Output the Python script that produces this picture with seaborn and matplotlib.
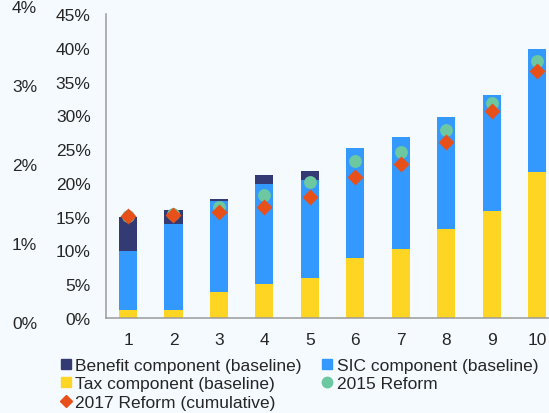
import numpy as np
import pandas as pd
import matplotlib
matplotlib.use('Agg')
import matplotlib.pyplot as plt
from matplotlib.lines import Line2D
import seaborn as sns

# values (% of ...)
deciles = ['1', '2', '3', '4', '5', '6', '7', '8', '9', '10']
tax = [1.2, 1.2, 3.8, 5.0, 5.9, 8.9, 10.2, 13.2, 15.9, 21.6]
sic = [8.7, 12.7, 13.5, 14.9, 14.5, 16.3, 16.6, 16.6, 17.1, 18.2]
benefit = [5.1, 2.1, 0.3, 1.2, 1.3, 0.0, 0.0, 0.0, 0.0, 0.0]
reform_2015 = [15.1, 15.4, 16.5, 18.2, 20.2, 23.2, 24.6, 27.9, 31.8, 38.0]
reform_2017 = [15.1, 15.3, 15.7, 16.4, 17.9, 20.8, 22.8, 26.0, 30.7, 36.5]
outer_ticks = [0, 1, 2, 3, 4]

c_benefit = '#343B74'
c_sic = '#3399FF'
c_tax = '#FFD524'
c_2015 = '#6CC8A0'
c_2017 = '#E8501A'
bg = '#F5FAFE'
fs = 12.5

df = pd.DataFrame({'decile': deciles, 'tax': tax, 'sic': sic, 'benefit': benefit,
                   'r2015': reform_2015, 'r2017': reform_2017})
df['tax_sic'] = df['tax'] + df['sic']
df['total'] = df['tax_sic'] + df['benefit']

sns.set_style('white')
plt.rcParams['font.family'] = ['Liberation Sans', 'DejaVu Sans']
plt.rcParams['font.size'] = fs

fig = plt.figure(figsize=(5.49, 4.14), dpi=100, facecolor=bg)

# outer scale on the far left
ax0 = fig.add_axes([0.075, 0.2198, 0.01, 0.763])
ax0.set_facecolor('none')
ax0.set_ylim(0, 4)
ax0.set_yticks(outer_ticks)
ax0.set_yticklabels([f'{t}%' for t in outer_ticks])
ax0.set_xticks([])
ax0.tick_params(axis='y', length=0, pad=3, labelsize=fs)
for s in ax0.spines.values():
    s.set_visible(False)

ax = fig.add_axes([0.193, 0.2295, 0.807, 0.7343])
ax.set_facecolor(bg)

# stacked bars drawn as overlapping cumulative totals
sns.barplot(data=df, x='decile', y='total', color=c_benefit, width=0.4,
            saturation=1, linewidth=0, ax=ax)
sns.barplot(data=df, x='decile', y='tax_sic', color=c_sic, width=0.4,
            saturation=1, linewidth=0, ax=ax)
sns.barplot(data=df, x='decile', y='tax', color=c_tax, width=0.4,
            saturation=1, linewidth=0, ax=ax)

sns.pointplot(data=df, x='decile', y='r2015', color=c_2015, marker='o',
              markersize=7.2, linestyle='none', errorbar=None, ax=ax)
sns.pointplot(data=df, x='decile', y='r2017', color=c_2017, marker='D',
              markersize=6.2, linestyle='none', errorbar=None, ax=ax)

ax.set_ylim(0, 45)
ax.set_yticks(np.arange(0, 46, 5))
ax.set_yticklabels([f'{t}%' for t in range(0, 46, 5)])
ax.set_xlim(-0.485, 9.26)
ax.set_xlabel('')
ax.set_ylabel('')
ax.tick_params(axis='both', length=0, labelsize=fs)
ax.tick_params(axis='y', pad=11)
ax.tick_params(axis='x', pad=10)
for side in ['top', 'right']:
    ax.spines[side].set_visible(False)
for side in ['left', 'bottom']:
    ax.spines[side].set_color('#9A9A9A')
    ax.spines[side].set_linewidth(1.1)

def sq(c, m='s', ms=7):
    return Line2D([], [], marker=m, color=c, linestyle='none', markersize=ms)

handles = [sq(c_benefit), sq(c_tax), sq(c_2017, 'D', 6),
           sq(c_sic), sq(c_2015, 'o', 7.5)]
labels = ['Benefit component (baseline)', 'Tax component (baseline)',
          '2017 Reform (cumulative)', 'SIC component (baseline)', '2015 Reform']
fig.legend(handles, labels, ncol=2, loc='upper left',
           bbox_to_anchor=(0.112, 0.134), frameon=False, fontsize=fs,
           handlelength=0.5, handletextpad=0.3, labelspacing=0.2,
           columnspacing=1.2, borderpad=0, borderaxespad=0)

fig.savefig('out.png', dpi=100, facecolor=bg)
